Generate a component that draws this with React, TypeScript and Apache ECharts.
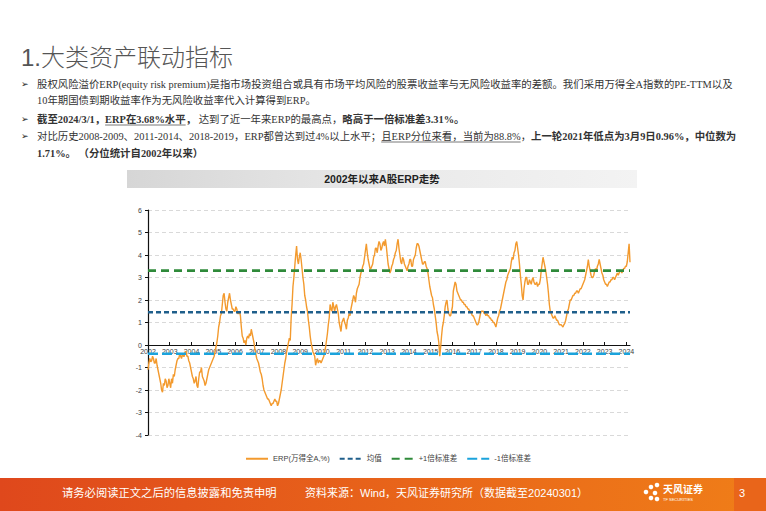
import React, { useEffect, useRef } from "react";
import * as echarts from "echarts";

// ---------------- data ----------------
const years = [2002, 2003, 2004, 2005, 2006, 2007, 2008, 2009, 2010, 2011, 2012, 2013, 2014, 2015, 2016, 2017, 2018, 2019, 2020, 2021, 2022, 2023, 2024];
// semi-monthly ERP values (%), 1st and 15th of each month, Jan..Dec
const erp2002 = [-1.1, -0.8, -0.6, -0.75, -0.7, -0.5, -0.6, -0.8, -0.8, -0.6, -0.9, -1.1, -1.3, -1.5, -1.7, -2.0, -2.1, -1.7, -1.8, -1.5, -1.6, -1.9, -1.8, -1.5];
const erp2003 = [-1.7, -1.9, -1.5, -1.7, -1.3, -1.4, -1.1, -0.9, -0.7, -0.6, -0.6, -0.4, -0.5, -0.6, -0.4, -0.5, -0.5, -0.3, -0.3, -0.5, -0.5, -0.7, -0.8, -1.0];
const erp2004 = [-1.2, -1.4, -1.5, -1.7, -1.6, -1.4, -1.8, -1.9, -1.5, -1.2, -1.2, -1.0, -1.4, -1.5, -1.6, -1.8, -1.7, -1.5, -1.3, -1.1, -1.0, -0.9, -0.8, -0.7];
const erp2005 = [-0.6, -0.5, -0.3, -0.1, 0.1, 0.4, 0.8, 1.0, 1.3, 1.4, 1.8, 2.2, 2.3, 1.9, 1.6, 1.5, 1.9, 2.1, 2.3, 2.0, 1.8, 1.6, 1.6, 1.5];
const erp2006 = [1.5, 1.7, 1.6, 1.4, 1.4, 1.5, 1.3, 0.8, 0.4, 0.3, 0.1, 0.2, 0.0, 0.3, 0.4, 0.3, 0.5, 0.4, 0.7, 0.5, 0.3, 0.1, -0.2, -0.4];
const erp2007 = [-0.6, -0.7, -0.8, -1.0, -1.2, -1.3, -1.5, -1.8, -2.0, -2.1, -2.2, -2.3, -2.4, -2.4, -2.5, -2.6, -2.7, -2.6, -2.6, -2.5, -2.4, -2.5, -2.5, -2.7];
const erp2008 = [-2.6, -2.4, -2.2, -2.0, -1.7, -1.4, -1.1, -0.8, -0.6, -0.3, -0.1, 0.1, 0.3, 0.2, 1.2, 1.8, 2.6, 3.0, 3.5, 4.0, 4.4, 3.8, 3.6, 3.9];
const erp2009 = [4.1, 3.8, 3.4, 3.0, 2.7, 2.2, 2.0, 1.7, 1.5, 1.1, 0.8, 0.4, 0.1, -0.1, -0.3, -0.4, -0.5, -0.9, -0.7, -0.6, -0.8, -0.7, -0.7, -0.8];
const erp2010 = [-0.7, -0.6, -0.5, -0.3, -0.1, 0.2, 0.5, 0.9, 1.2, 1.8, 1.6, 1.5, 1.9, 1.7, 1.5, 1.7, 1.8, 1.6, 1.4, 1.0, 0.8, 0.6, 1.0, 1.1];
const erp2011 = [1.2, 1.0, 0.9, 0.7, 1.1, 1.2, 1.4, 1.3, 1.6, 1.8, 2.0, 2.2, 2.1, 1.9, 2.3, 2.5, 2.6, 2.7, 3.0, 3.2, 3.3, 3.5, 3.6, 3.9];
const erp2012 = [4.2, 4.5, 4.1, 3.8, 3.6, 3.4, 3.4, 3.5, 3.6, 3.9, 4.0, 4.3, 4.3, 4.1, 4.4, 4.6, 4.5, 4.2, 4.3, 4.5, 4.6, 4.4, 4.7, 4.4];
const erp2013 = [4.0, 3.6, 3.4, 3.2, 3.3, 3.5, 3.6, 3.8, 3.9, 4.1, 4.2, 4.5, 4.7, 4.3, 4.0, 3.7, 3.6, 3.9, 3.8, 3.6, 3.5, 3.4, 3.3, 3.5];
const erp2014 = [3.6, 3.8, 3.8, 3.5, 3.5, 3.8, 3.9, 4.0, 4.3, 4.5, 4.5, 4.4, 4.2, 4.0, 3.8, 3.6, 3.6, 3.7, 3.7, 3.5, 3.4, 3.2, 2.9, 2.6];
const erp2015 = [2.4, 2.2, 2.1, 1.8, 1.6, 1.3, 1.0, 0.6, 0.4, 0.1, -0.5, -0.1, 0.4, 0.8, 1.0, 1.3, 1.7, 1.9, 2.0, 1.6, 1.4, 1.3, 1.3, 1.5];
const erp2016 = [1.7, 2.4, 2.6, 2.8, 2.7, 2.4, 2.3, 2.2, 2.1, 2.0, 2.0, 1.9, 1.9, 1.8, 1.8, 1.7, 1.7, 1.6, 1.6, 1.5, 1.5, 1.4, 1.3, 1.3];
const erp2017 = [1.2, 1.1, 1.0, 0.9, 0.9, 1.0, 1.2, 1.4, 1.5, 1.5, 1.5, 1.4, 1.4, 1.3, 1.4, 1.3, 1.3, 1.2, 1.2, 1.1, 1.1, 1.0, 1.0, 0.9];
const erp2018 = [0.8, 1.0, 1.2, 1.3, 1.5, 1.6, 1.8, 2.0, 2.2, 2.4, 2.6, 2.8, 2.9, 3.1, 3.2, 3.3, 3.4, 3.7, 3.9, 3.8, 4.1, 4.2, 4.5, 4.6];
const erp2019 = [4.3, 4.0, 3.6, 3.1, 2.7, 2.2, 2.0, 2.5, 2.8, 3.0, 3.0, 2.7, 2.7, 2.9, 2.8, 2.7, 2.9, 3.0, 2.8, 2.7, 2.7, 2.8, 2.6, 2.7];
const erp2020 = [2.7, 2.9, 3.3, 3.6, 3.9, 3.7, 3.5, 3.3, 3.0, 2.7, 2.3, 1.8, 1.5, 1.4, 1.3, 1.2, 1.2, 1.3, 1.2, 1.1, 1.1, 1.0, 0.9, 0.9];
const erp2021 = [0.9, 0.85, 0.8, 0.9, 0.96, 1.1, 1.3, 1.5, 1.6, 1.8, 2.0, 2.0, 2.1, 2.2, 2.2, 2.3, 2.3, 2.4, 2.4, 2.3, 2.4, 2.5, 2.5, 2.6];
const erp2022 = [2.7, 2.8, 2.9, 3.1, 3.3, 3.5, 3.8, 3.5, 3.3, 3.1, 3.0, 3.0, 3.1, 3.3, 3.4, 3.3, 3.5, 3.6, 3.8, 3.6, 3.4, 3.2, 3.1, 2.9];
const erp2023 = [2.8, 2.7, 2.7, 2.6, 2.7, 2.8, 2.8, 2.9, 2.9, 3.0, 3.0, 2.9, 3.0, 3.1, 3.2, 3.1, 3.2, 3.3, 3.3, 3.2, 3.3, 3.4, 3.4, 3.5];
const erp2024 = [3.5, 3.7, 4.1, 4.5, 3.68];
const erpByYear = [erp2002, erp2003, erp2004, erp2005, erp2006, erp2007, erp2008, erp2009, erp2010, erp2011, erp2012, erp2013, erp2014, erp2015, erp2016, erp2017, erp2018, erp2019, erp2020, erp2021, erp2022, erp2023, erp2024];

const meanValue = 1.46;
const plusOneStd = 3.31;
const minusOneStd = -0.39;

const seriesNames = ["ERP(万得全A,%)", "均值", "+1倍标准差", "-1倍标准差"];
const yTicks = { min: -4, max: 6, step: 1 };

const chartTitle = "2002年以来A股ERP走势";
const pageTitle = "1.大类资产联动指标";

type Seg = { t: string; b?: boolean; u?: boolean };
const textLines: { y: number; bullet: boolean; segs: Seg[] }[] = [
  { y: 84, bullet: true, segs: [{ t: "股权风险溢价ERP(equity risk premium)是指市场投资组合或具有市场平均风险的股票收益率与无风险收益率的差额。我们采用万得全A指数的PE-TTM以及" }] },
  { y: 100, bullet: false, segs: [{ t: "10年期国债到期收益率作为无风险收益率代入计算得到ERP。" }] },
  { y: 119, bullet: true, segs: [{ t: "截至2024/3/1，", b: true }, { t: "ERP在3.68%水平", b: true, u: true }, { t: "，", b: true }, { t: " 达到了近一年来ERP的最高点，" }, { t: "略高于一倍标准差3.31%。", b: true }] },
  { y: 136, bullet: true, segs: [{ t: "对比历史2008-2009、2011-2014、2018-2019，ERP都曾达到过4%以上水平；" }, { t: "且ERP分位来看，当前为88.8%", u: true }, { t: "，" }, { t: "上一轮2021年低点为3月9日0.96%，中位数为", b: true }] },
  { y: 153, bullet: false, segs: [{ t: "1.71%。 （分位统计自2002年以来）", b: true }] },
];

const footerLeft = "请务必阅读正文之后的信息披露和免责申明";
const footerSource = "资料来源：Wind，天风证券研究所（数据截至20240301）";
const pageNumber = "3";

// ---------------- helpers ----------------
const FONT_BODY = "'Liberation Serif', 'Noto Sans CJK SC', serif";
const FONT_SANS = "'Liberation Sans', 'Noto Sans CJK SC', sans-serif";
const BODY_SIZE = 10.4;

function measure(text: string, bold: boolean): number {
  const ctx = document.createElement("canvas").getContext("2d");
  if (!ctx) return text.length * BODY_SIZE;
  ctx.font = `${bold ? "bold" : "normal"} ${BODY_SIZE}px ${FONT_BODY}`;
  return ctx.measureText(text).width;
}

export default function App() {
  const ref = useRef<HTMLDivElement>(null);

  useEffect(() => {
    if (!ref.current) return;
    const chart = echarts.init(ref.current, undefined, { renderer: "svg" });

    const W = 766;
    const H = 511;
    const grid = { left: 148, right: 136, top: 210, bottom: 76 };
    const plotH = H - grid.top - grid.bottom;
    const zeroOffset = -((0 - yTicks.min) / (yTicks.max - yTicks.min)) * plotH;

    const firstX = years[0];
    const lastYear = years[years.length - 1];
    const lastX = lastYear + (erp2024.length - 1) / 24;

    const erpPoints: number[][] = [];
    years.forEach((yr, i) => {
      erpByYear[i].forEach((v, k) => erpPoints.push([yr + k / 24, v]));
    });

    const graphics: any[] = [];
    graphics.push({
      type: "text",
      x: 21,
      y: 57,
      style: { text: pageTitle, fill: "#555555", fontSize: 24, fontFamily: FONT_SANS, fontWeight: 300, textVerticalAlign: "middle" },
    });
    textLines.forEach((ln) => {
      if (ln.bullet) {
        graphics.push({
          type: "text",
          x: 21,
          y: ln.y,
          style: { text: "➢", fill: "#222", fontSize: 9, fontFamily: "'DejaVu Sans', sans-serif", textVerticalAlign: "middle" },
        });
      }
      let cx = 37;
      ln.segs.forEach((s) => {
        const w = measure(s.t, !!s.b);
        graphics.push({
          type: "text",
          x: cx,
          y: ln.y,
          style: { text: s.t, fill: "#333", fontSize: BODY_SIZE, fontFamily: FONT_BODY, fontWeight: s.b ? "bold" : "normal", textVerticalAlign: "middle" },
        });
        if (s.u) {
          graphics.push({
            type: "line",
            shape: { x1: cx, y1: ln.y + 6, x2: cx + w, y2: ln.y + 6 },
            style: { stroke: "#555", lineWidth: 0.8 },
          });
        }
        cx += w;
      });
    });
    graphics.push({
      type: "rect",
      shape: { x: 127, y: 170, width: 510, height: 18 },
      style: {
        fill: new echarts.graphic.LinearGradient(0, 0, 1, 0, [
          { offset: 0, color: "#d6d6d6" },
          { offset: 0.5, color: "#e9e9e9" },
          { offset: 1, color: "#f3f3f3" },
        ]),
      },
      z: -1,
    });
    graphics.push({
      type: "text",
      x: 382,
      y: 179,
      style: { text: chartTitle, fill: "#222", fontSize: 10.5, fontWeight: "bold", fontFamily: FONT_SANS, textAlign: "center", textVerticalAlign: "middle" },
    });
    graphics.push({
      type: "rect",
      shape: { x: 0, y: 478, width: W, height: 33 },
      style: {
        fill: new echarts.graphic.LinearGradient(0, 0, 1, 0, [
          { offset: 0, color: "#df481c" },
          { offset: 1, color: "#f07e18" },
        ]),
      },
    });
    graphics.push({
      type: "rect",
      shape: { x: 734, y: 478, width: 32, height: 33 },
      style: { fill: "#e9651a" },
    });
    graphics.push({
      type: "text",
      x: 62,
      y: 493,
      style: { text: footerLeft, fill: "#ffffff", fontSize: 11.3, fontFamily: FONT_SANS, textVerticalAlign: "middle" },
    });
    graphics.push({
      type: "text",
      x: 305,
      y: 493,
      style: { text: footerSource, fill: "#ffffff", fontSize: 11, fontFamily: FONT_SANS, textVerticalAlign: "middle" },
    });
    [[651, 487], [657, 485], [646, 492], [655, 493], [651, 498], [657, 499]].forEach(([cx, cy]) => {
      graphics.push({ type: "circle", shape: { cx, cy, r: 2.3 }, style: { fill: "#ffffff" } });
    });
    graphics.push({
      type: "text",
      x: 663,
      y: 489,
      style: { text: "天风证券", fill: "#ffffff", fontSize: 10, fontWeight: "bold", fontFamily: FONT_SANS, textVerticalAlign: "middle" },
    });
    graphics.push({
      type: "text",
      x: 663,
      y: 499,
      style: { text: "TF SECURITIES", fill: "#ffffff", fontSize: 4, fontFamily: FONT_SANS, textVerticalAlign: "middle" },
    });
    graphics.push({
      type: "text",
      x: 742,
      y: 493,
      style: { text: pageNumber, fill: "#ffffff", fontSize: 11, fontFamily: FONT_SANS, textAlign: "center", textVerticalAlign: "middle" },
    });

    const flat = (v: number) => [[firstX, v], [lastX, v]];

    chart.setOption({
      animation: false,
      backgroundColor: "#ffffff",
      textStyle: { fontFamily: FONT_SANS },
      grid: { ...grid, containLabel: false },
      legend: {
        left: 240,
        top: 450,
        itemWidth: 22,
        itemHeight: 8,
        itemGap: 9,
        itemStyle: { opacity: 0 },
        textStyle: { fontSize: 7.5, color: "#404040", fontFamily: FONT_SANS },
        data: seriesNames,
      },
      xAxis: {
        type: "value",
        min: firstX,
        max: lastX,
        interval: 1,
        position: "bottom",
        offset: zeroOffset,
        axisLine: { show: true, onZero: false, lineStyle: { color: "#111", width: 1.2 } },
        axisTick: { show: true, inside: true, length: 3, lineStyle: { color: "#111" } },
        axisLabel: {
          fontSize: 7,
          color: "#404040",
          margin: 3,
          showMaxLabel: false,
          formatter: (v: number) => (Math.abs(v - Math.round(v)) < 1e-6 ? String(Math.round(v)) : ""),
        },
        splitLine: { show: false },
      },
      yAxis: {
        type: "value",
        min: yTicks.min,
        max: yTicks.max,
        interval: yTicks.step,
        position: "left",
        axisLine: { show: true, onZero: false, lineStyle: { color: "#111", width: 1.2 } },
        axisTick: { show: true, length: 3, lineStyle: { color: "#111" } },
        axisLabel: { fontSize: 7, color: "#404040", margin: 6 },
        splitLine: { show: true, lineStyle: { type: [4, 3], color: "#d9d9d9", width: 1 } },
      },
      series: [
        {
          name: seriesNames[0],
          type: "line",
          data: erpPoints,
          showSymbol: false,
          symbol: "none",
          lineStyle: { color: "#f39a2e", width: 1.4 },
          itemStyle: { color: "#f39a2e" },
        },
        {
          name: seriesNames[1],
          type: "line",
          data: flat(meanValue),
          showSymbol: false,
          symbol: "none",
          lineStyle: { color: "#1f5f8b", width: 2.5, type: [5, 3] },
          itemStyle: { color: "#1f5f8b" },
        },
        {
          name: seriesNames[2],
          type: "line",
          data: flat(plusOneStd),
          showSymbol: false,
          symbol: "none",
          lineStyle: { color: "#2f8a3a", width: 2.8, type: [8, 5] },
          itemStyle: { color: "#2f8a3a" },
        },
        {
          name: seriesNames[3],
          type: "line",
          data: flat(minusOneStd),
          showSymbol: false,
          symbol: "none",
          lineStyle: { color: "#1ba3dc", width: 2.5, type: [10, 4] },
          itemStyle: { color: "#1ba3dc" },
        },
      ],
      graphic: graphics,
    });

    return () => chart.dispose();
  }, []);

  return (
    <div
      ref={ref}
      style={{ position: "fixed", left: 0, top: 0, width: 766, height: 511, background: "#fff" }}
    />
  );
}
